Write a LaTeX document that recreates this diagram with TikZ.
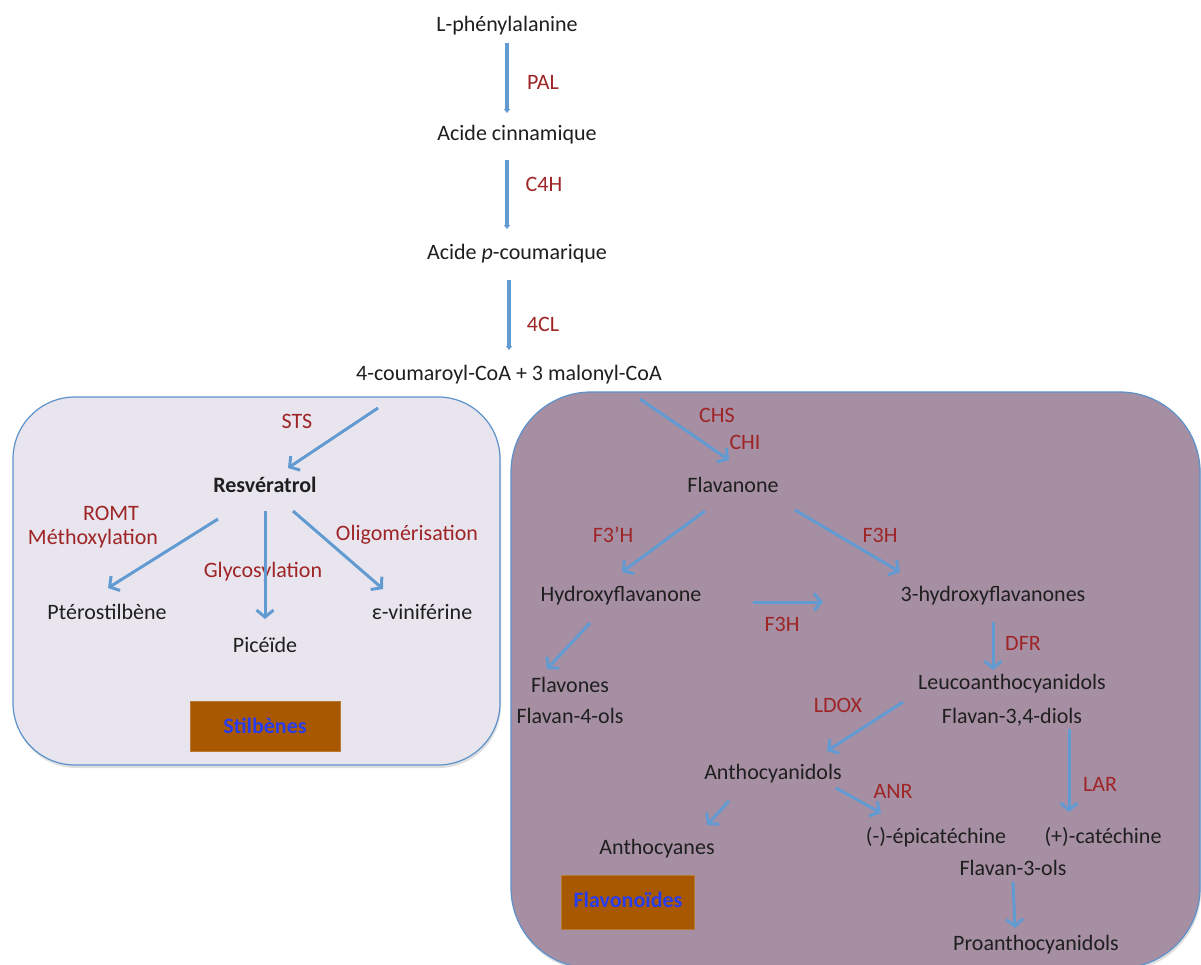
\documentclass[tikz,border=0pt]{standalone}
\usepackage{fontspec}
\setmainfont{Carlito}
\usetikzlibrary{arrows.meta,shadows}

\definecolor{arrowblue}{RGB}{98,154,210}
\definecolor{enzred}{RGB}{158,36,38}
\definecolor{boxline}{RGB}{92,146,204}
\definecolor{stilbfill}{RGB}{232,229,238}
\definecolor{flavofill}{RGB}{166,142,163}
\definecolor{brownbox}{RGB}{168,88,0}
\definecolor{titleblue}{RGB}{40,62,238}

\tikzset{
    compound/.style={inner sep=0pt, text=black!88},
    enzyme/.style={inner sep=0pt, text=enzred},
    pathway/.style={draw=arrowblue, line width=3pt, -{Straight Barb[length=7pt,width=17pt]}},
    mainline/.style={draw=arrowblue, line width=3.6pt, -{Triangle[length=4pt,width=6pt]}},
    family/.style={rounded corners=#1, draw=boxline, line width=1.2pt,
        drop shadow={opacity=0.25, shadow xshift=1pt, shadow yshift=-3pt}},
    tag/.style={fill=brownbox, draw=brownbox!80!white, text=titleblue,
        font=\fontsize{22}{26}\selectfont\bfseries,
        minimum width=150pt, minimum height=50pt, inner sep=0pt}
}

\newcommand{\drawEnzyme}[4]{\node[enzyme] (#1) at (#2,#3) {#4};}

\begin{document}
\begin{tikzpicture}[x=1pt, y=-1pt, font=\fontsize{22}{26}\selectfont]
        \useasboundingbox[fill=white] (0,0) rectangle (1201,964);

        % Draw the two families
        \filldraw[family=62, fill=stilbfill] (13,397) rectangle (500,765);
        \filldraw[family=80, fill=flavofill] (511,392) rectangle (1200,968);

        \node[tag] (stilb) at (265,726) {Stilbènes};
        \node[tag, minimum width=133pt, minimum height=54pt] (flavo) at (628,902) {\raisebox{5pt}{Flavonoïdes}};

        % Main pathway
        \node[compound] (phe) at (507,26) {L-phénylalanine};
        \node[compound] (cin) at (517,135) {Acide cinnamique};
        \node[compound] (pcou) at (517,254) {Acide \textit{p}-coumarique};
        \node[compound] (coa) at (509,375) {4-coumaroyl-CoA + 3 malonyl-CoA};

        % Stilbenes
        \node[compound, font=\fontsize{22}{26}\selectfont\bfseries] (res) at (265,485) {Resvératrol};
        \node[compound] (pte) at (107,612) {Ptérostilbène};
        \node[compound] (pic) at (265,645) {Picéïde};
        \node[compound] (vin) at (422,612) {ε-viniférine};

        % Flavonoids
        \node[compound] (flav) at (733,485) {Flavanone};
        \node[compound] (hyd) at (621,596) {Hydroxyflavanone};
        \node[compound] (hf3) at (993,596) {3-hydroxyflavanones};
        \node[compound] (flavones) at (570,685) {Flavones};
        \node[compound] (f4) at (570,716) {Flavan-4-ols};
        \node[compound] (leu) at (1012,684) {Leucoanthocyanidols};
        \node[compound] (f34) at (1012,717) {Flavan-3,4-diols};
        \node[compound] (antho) at (773,774) {Anthocyanidols};
        \node[compound] (anthoc) at (657,849) {Anthocyanes};
        \node[compound] (epi) at (936,837) {(-)-épicatéchine};
        \node[compound] (cat) at (1103,837) {(+)-catéchine};
        \node[compound] (f3ols) at (1013,868) {Flavan-3-ols};
        \node[compound] (pro) at (1036,945) {Proanthocyanidols};

        % Enzymes
        \drawEnzyme{pal}{543}{82}{PAL}
        \drawEnzyme{c4h}{544}{184}{C4H}
        \drawEnzyme{fourcl}{543}{324}{4CL}
        \drawEnzyme{sts}{297}{421}{STS}
        \drawEnzyme{romt}{111}{513}{ROMT}
        \drawEnzyme{methox}{93}{539}{Méthoxylation}
        \drawEnzyme{glyco}{263}{572}{Glycosylation}
        \drawEnzyme{oligo}{407}{535}{Oligomérisation}
        \drawEnzyme{chs}{717}{415}{CHS}
        \drawEnzyme{chi}{745}{442}{CHI}
        \drawEnzyme{fthreeph}{613}{535}{F3’H}
        \drawEnzyme{fthreeh}{880}{535}{F3H}
        \drawEnzyme{fthreehb}{782}{624}{F3H}
        \drawEnzyme{dfr}{1023}{643}{DFR}
        \drawEnzyme{ldox}{838}{705}{LDOX}
        \drawEnzyme{anr}{893}{791}{ANR}
        \drawEnzyme{lar}{1100}{784}{LAR}

        % Main pathway arrows
        \draw[mainline] ([shift={(0,17)}]phe.center) -- ([shift={(-10,-22)}]cin.center);
        \draw[mainline] ([shift={(-10,25)}]cin.center) -- ([shift={(-10,-25)}]pcou.center);
        \draw[mainline] ([shift={(-8,26)}]pcou.center) -- ([shift={(0,-25)}]coa.center);

        % Stilbene arrows
        \draw[pathway] ([shift={(-131,33)}]coa.center) -- ([shift={(23,-17)}]res.center);
        \draw[pathway] ([shift={(-47,34)}]res.center) -- ([shift={(1,-24)}]pte.center);
        \draw[pathway] ([shift={(0,26)}]res.center) -- ([shift={(0,-26)}]pic.center);
        \draw[pathway] ([shift={(28,26)}]res.center) -- ([shift={(-39,-23)}]vin.center);

        % Flavonoid arrows
        \draw[pathway] ([shift={(131,24)}]coa.center) -- ([shift={(-4,-25)}]flav.center);
        \draw[pathway] ([shift={(-28,26)}]flav.center) -- ([shift={(1,-24)}]hyd.center);
        \draw[pathway] ([shift={(62,25)}]flav.center) -- ([shift={(-93,-24)}]hf3.center);
        \draw[pathway] ([shift={(132,6)}]hyd.center) -- ([shift={(-170,6)}]hf3.center);
        \draw[pathway] ([shift={(-31,27)}]hyd.center) -- ([shift={(-23,-16)}]flavones.center);
        \draw[pathway] ([shift={(0,26)}]hf3.center) -- ([shift={(-19,-14)}]leu.center);
        \draw[pathway] ([shift={(-109,18)}]leu.center) -- ([shift={(54,-23)}]antho.center);
        \draw[pathway] ([shift={(-44,27)}]antho.center) -- ([shift={(50,-24)}]anthoc.center);
        \draw[pathway] ([shift={(63,14)}]antho.center) -- ([shift={(-55,-24)}]epi.center);
        \draw[pathway] ([shift={(57,12)}]f34.center) -- ([shift={(-34,-25)}]cat.center);
        \draw[pathway] ([shift={(0,14)}]f3ols.center) -- ([shift={(-21,-17)}]pro.center);

    \end{tikzpicture}
\end{document}
